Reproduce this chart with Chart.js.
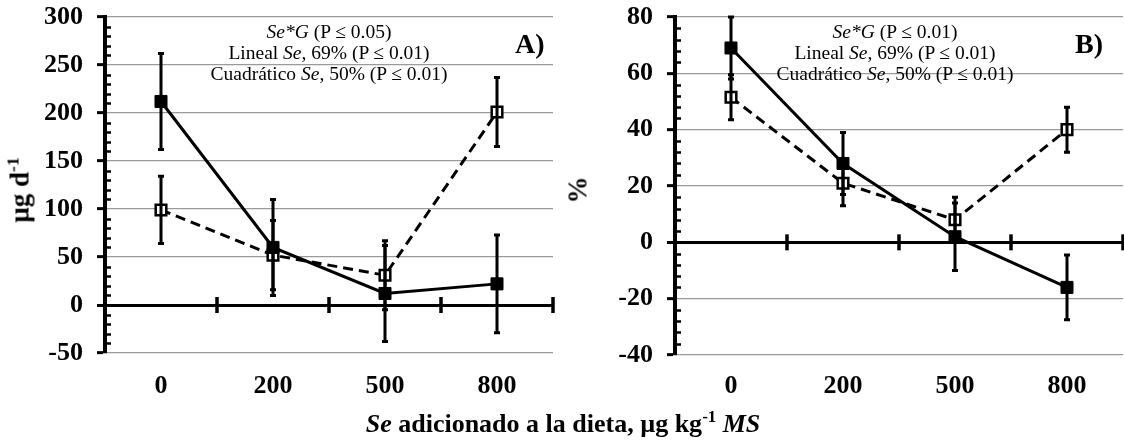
<!DOCTYPE html>
<html>
<head>
<meta charset="utf-8">
<script src="https://cdn.jsdelivr.net/npm/chart.js@4.4.1/dist/chart.umd.min.js"></script>
<style>
  body { margin: 0; background: #fff; }
  #wrap { position: relative; width: 1124px; height: 442px; overflow: hidden;
          font-family: "Liberation Serif", "Times New Roman", serif; color: #000; }
  canvas { position: absolute; top: 0; }
  .note { position: absolute; top: 21px; transform: translateX(-50%); text-align: center;
          font-size: 19.5px; line-height: 21px; white-space: nowrap; }
  .tag { position: absolute; top: 30px; font-weight: bold; font-size: 28px; line-height: 28px; }
  .ytitle { position: absolute; font-weight: bold; font-size: 27px; white-space: nowrap;
            transform: translate(-50%, -50%) rotate(-90deg); }
  .xtitle { position: absolute; left: 563px; top: 424px; transform: translate(-50%, -50%);
            font-weight: bold; font-size: 26px; white-space: nowrap; }
  sup { font-size: 65%; line-height: 0; }
</style>
</head>
<body>
<div id="wrap">
  <canvas id="chartA" width="562" height="442" style="left:0"></canvas>
  <canvas id="chartB" width="562" height="442" style="left:562px"></canvas>

  <div class="note" style="left:329px"><i>Se*G</i> (P ≤ 0.05)<br>Lineal <i>Se</i>, 69% (P ≤ 0.01)<br>Cuadrático <i>Se</i>, 50% (P ≤ 0.01)</div>
  <div class="note" style="left:895px"><i>Se*G</i> (P ≤ 0.01)<br>Lineal <i>Se</i>, 69% (P ≤ 0.01)<br>Cuadrático <i>Se</i>, 50% (P ≤ 0.01)</div>
  <div class="tag" style="left:515px">A)</div>
  <div class="tag" style="left:1075px">B)</div>
  <div class="ytitle" style="left:20px; top:190px">µg d<sup>-1</sup></div>
  <div class="ytitle" style="left:578px; top:190px">%</div>
  <div class="xtitle"><i>Se</i> adicionado a la dieta, µg kg<sup>-1</sup> <i>MS</i></div>
</div>

<script>
// Se added to the diet, µg/kg DM
const doses = ["0", "200", "500", "800"];

// panel A (µg d-1)
const aFilled = [212, 60, 12, 22];
const aFilledErr = [50, 50, 50, 51];
const aOpen = [99, 52, 31, 201];
const aOpenErr = [35, 36, 36, 36];
const aMin = -50, aMax = 300, aStep = 50;

// panel B (%)
const bFilled = [69, 28, 2, -16];
const bFilledErr = [11, 11, 12, 11.5];
const bOpen = [51.5, 21, 8, 40];
const bOpenErr = [8, 8, 8, 8];
const bMin = -40, bMax = 80, bStep = 20;

const FONT = '"Liberation Serif", "Times New Roman", serif';
const TICK_FONT = { family: FONT, size: 26, weight: 'bold', lineHeight: 1 };

// axis decorations + error bars
const decor = {
  id: 'decor',
  beforeDatasetsDraw(chart) {
    const { ctx, chartArea, scales: { x, y } } = chart;
    const y0 = y.getPixelForValue(0);
    const half = (x.getPixelForValue(1) - x.getPixelForValue(0)) / 2;
    ctx.save();
    ctx.strokeStyle = '#000';
    ctx.lineWidth = 3.5;
    for (let i = 0; i < doses.length; i++) {
      const px = x.getPixelForValue(i) + half;
      ctx.beginPath();
      ctx.moveTo(px, y0 - 8);
      ctx.lineTo(px, y0 + 8);
      ctx.stroke();
    }
    // minor ticks on the inner side of the y axis
    const { min, max } = chart.options.scales.y;
    const minor = chart.options.scales.y.ticks.stepSize / 5;
    ctx.lineWidth = 2.5;
    for (let k = 0; min + k * minor <= max + 1e-9; k++) {
      if (k % 5 === 0) continue;
      const py = Math.round(y.getPixelForValue(min + k * minor)) + 0.5;
      ctx.beginPath();
      ctx.moveTo(chartArea.left, py);
      ctx.lineTo(chartArea.left + 6, py);
      ctx.stroke();
    }
    ctx.restore();
  },
  afterDatasetsDraw(chart) {
    const { ctx, scales: { x, y } } = chart;
    ctx.save();
    ctx.strokeStyle = '#000';
    ctx.lineWidth = 3;
    chart.data.datasets.forEach(ds => {
      ds.data.forEach((v, i) => {
        const e = ds.errors[i];
        const px = x.getPixelForValue(i);
        const top = y.getPixelForValue(v + e);
        const bot = y.getPixelForValue(v - e);
        ctx.beginPath();
        ctx.moveTo(px, top);
        ctx.lineTo(px, bot);
        ctx.moveTo(px - 3, top);
        ctx.lineTo(px + 3, top);
        ctx.moveTo(px - 3, bot);
        ctx.lineTo(px + 3, bot);
        ctx.stroke();
      });
    });
    ctx.restore();
  }
};

function makeChart(id, filled, filledErr, open, openErr, min, max, step, box) {
  return new Chart(document.getElementById(id), {
    type: 'line',
    data: {
      labels: doses,
      datasets: [
        {
          data: filled, errors: filledErr,
          borderColor: '#000', borderWidth: 3,
          pointStyle: 'rect', pointRadius: 8.5,
          pointBackgroundColor: '#000', pointBorderColor: '#000', pointBorderWidth: 1
        },
        {
          data: open, errors: openErr,
          borderColor: '#000', borderWidth: 3, borderDash: [10, 6],
          pointStyle: 'rect', pointRadius: 7.5,
          pointBackgroundColor: '#fff', pointBorderColor: '#000', pointBorderWidth: 2.5
        }
      ]
    },
    options: {
      responsive: false,
      animation: false,
      layout: { autoPadding: false, padding: { top: box.top, right: box.right, left: 0, bottom: 0 } },
      plugins: { legend: { display: false }, tooltip: { enabled: false } },
      scales: {
        x: {
          type: 'category',
          offset: true,
          grid: { display: false, drawTicks: false },
          border: { display: false },
          ticks: {
            color: '#000', padding: box.xPad, maxRotation: 0, autoSkip: false,
            font: TICK_FONT
          },
          afterFit(scale) { scale.height = box.xHeight; }
        },
        y: {
          min: min, max: max,
          ticks: {
            stepSize: step, color: '#000', padding: 14,
            font: TICK_FONT
          },
          grid: {
            color: c => (c.tick && c.tick.value === 0 ? '#000' : '#9a9a9a'),
            lineWidth: c => (c.tick && c.tick.value === 0 ? 3 : 1.3),
            tickColor: '#000', tickWidth: 3, tickLength: 8
          },
          border: { display: true, color: '#000', width: 4 },
          afterFit(scale) {
            scale.width = box.yWidth;
            // plot height is set by layout padding alone
            scale.paddingTop = 0;
            scale.paddingBottom = 0;
          }
        }
      }
    },
    plugins: [decor]
  });
}

makeChart('chartA', aFilled, aFilledErr, aOpen, aOpenErr, aMin, aMax, aStep,
  { top: 17, right: 9, yWidth: 105, xHeight: 89, xPad: 20 });
makeChart('chartB', bFilled, bFilledErr, bOpen, bOpenErr, bMin, bMax, bStep,
  { top: 17, right: 1, yWidth: 113, xHeight: 87, xPad: 18 });
</script>
</body>
</html>
